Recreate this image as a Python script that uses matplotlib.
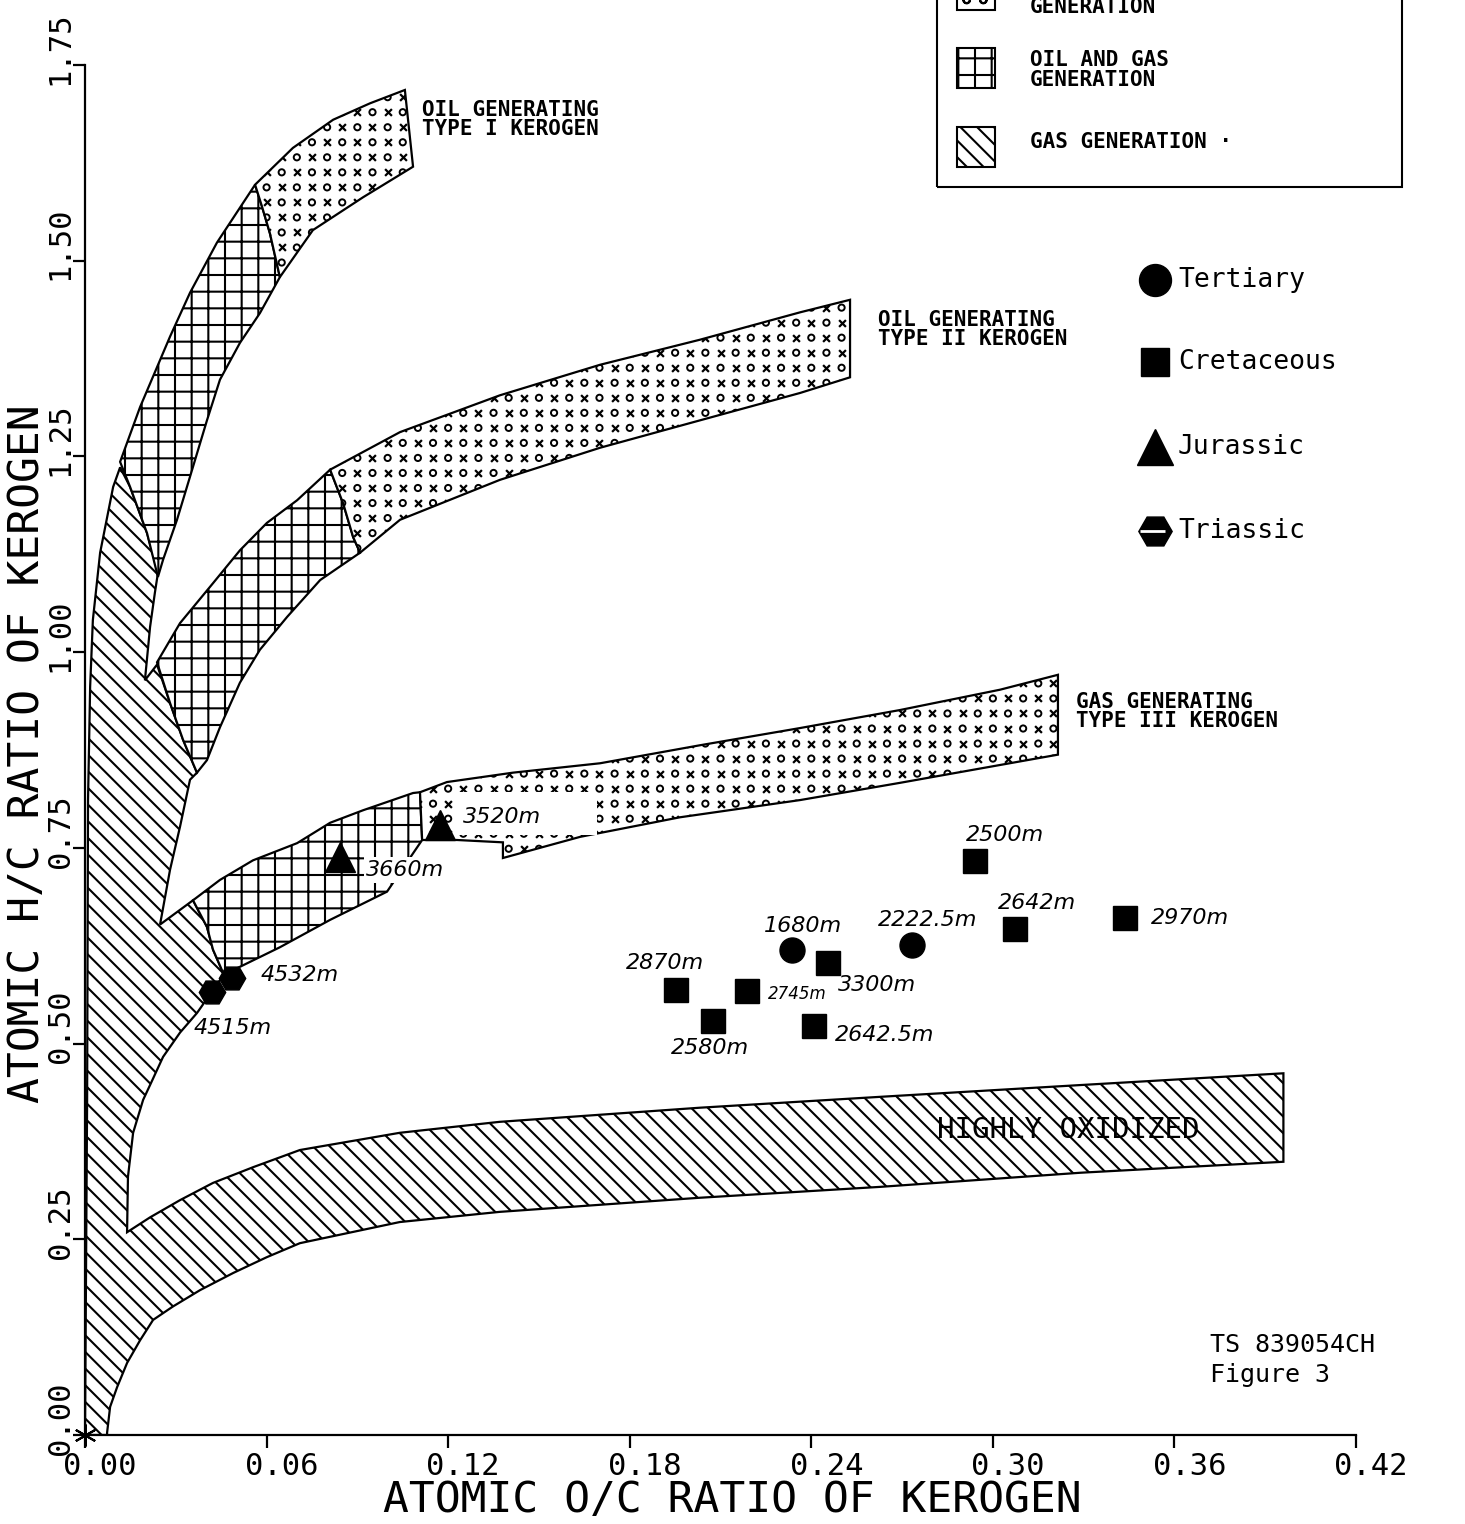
import matplotlib
matplotlib.use('Agg')
import matplotlib.pyplot as plt
import numpy as np
from matplotlib.patches import Polygon, Rectangle
from matplotlib.transforms import ScaledTranslation

plt.rcParams['font.family'] = ['DejaVu Sans Mono', 'DejaVu Sans']
plt.rcParams['hatch.linewidth'] = 1.5
plt.rcParams['hatch.color'] = 'black'

# ---- kerogen zone outlines (atomic O/C, atomic H/C) ----
# gas generation (incl. highly oxidized band)
gas_x = [0.0, 0.0007, 0.001, 0.0017, 0.0026, 0.005, 0.0093, 0.0116, 0.0149, 0.0205,
         0.0241, 0.0231, 0.0215, 0.0198, 0.0238, 0.0281, 0.0324, 0.037, 0.0347, 0.0314,
         0.0281, 0.0248, 0.0357, 0.0403, 0.0423, 0.0459, 0.037, 0.0314, 0.0258, 0.0215,
         0.0192, 0.0159, 0.0142, 0.0139, 0.0215, 0.0314, 0.0423, 0.0555, 0.071, 0.104,
         0.137, 0.203, 0.263, 0.329, 0.396, 0.396, 0.329, 0.263, 0.203, 0.170,
         0.137, 0.104, 0.071, 0.060, 0.049, 0.038, 0.029, 0.0225, 0.0182, 0.0139,
         0.0106, 0.0083, 0.0073, 0.0073]
gas_y = [0.0, 0.428, 0.811, 0.956, 1.041, 1.127, 1.211, 1.236, 1.211, 1.152,
         1.101, 1.076, 1.032, 0.964, 0.984, 0.935, 0.888, 0.846, 0.837, 0.777,
         0.722, 0.652, 0.683, 0.649, 0.620, 0.588, 0.539, 0.514, 0.483, 0.447,
         0.428, 0.386, 0.330, 0.259, 0.278, 0.300, 0.322, 0.342, 0.364, 0.386,
         0.400, 0.418, 0.432, 0.447, 0.462, 0.349, 0.335, 0.317, 0.303, 0.294,
         0.285, 0.272, 0.245, 0.227, 0.207, 0.185, 0.164, 0.147, 0.121, 0.092,
         0.061, 0.036, 0.003, 0.0]

# type I
t1_mix_x = [0.0116, 0.0182, 0.0281, 0.0347, 0.0436, 0.0562, 0.0585, 0.0611, 0.0644, 0.0578,
            0.0512, 0.0446, 0.0403, 0.0347, 0.0304, 0.0258, 0.0241, 0.0205, 0.0149]
t1_mix_y = [1.243, 1.313, 1.403, 1.459, 1.523, 1.597, 1.569, 1.535, 1.479, 1.433,
            1.395, 1.348, 1.296, 1.224, 1.169, 1.118, 1.096, 1.152, 1.211]
t1_oil_x = [0.0562, 0.0687, 0.082, 0.0942, 0.1057, 0.1084, 0.0919, 0.0753, 0.0644, 0.0611, 0.0585]
t1_oil_y = [1.597, 1.644, 1.680, 1.701, 1.718, 1.620, 1.581, 1.539, 1.479, 1.535, 1.569]

# type II
t2_mix_x = [0.0238, 0.0314, 0.0423, 0.0512, 0.0601, 0.0701, 0.081, 0.0853, 0.0886, 0.0909,
            0.0777, 0.0668, 0.0578, 0.0512, 0.0446, 0.0403, 0.037, 0.0324, 0.0281]
t2_mix_y = [0.987, 1.037, 1.088, 1.130, 1.165, 1.194, 1.233, 1.190, 1.147, 1.127,
            1.092, 1.045, 1.003, 0.961, 0.904, 0.862, 0.846, 0.888, 0.935]
t2_oil_x = [0.081, 0.1041, 0.1371, 0.1702, 0.2032, 0.2363, 0.2528, 0.2528, 0.2363, 0.2032,
            0.1702, 0.1371, 0.1041, 0.0909, 0.0886, 0.0853]
t2_oil_y = [1.233, 1.281, 1.328, 1.367, 1.399, 1.434, 1.450, 1.351, 1.331, 1.296,
            1.261, 1.220, 1.169, 1.127, 1.147, 1.190]

# type III
t3_mix_x = [0.0357, 0.0446, 0.0555, 0.0701, 0.081, 0.0919, 0.1084, 0.1107, 0.1114, 0.0998,
            0.081, 0.0644, 0.0459, 0.0423, 0.0403]
t3_mix_y = [0.683, 0.709, 0.734, 0.756, 0.782, 0.798, 0.820, 0.821, 0.760, 0.694,
            0.658, 0.623, 0.588, 0.620, 0.649]
t3_oil_x = [0.1107, 0.1196, 0.1414, 0.1702, 0.2032, 0.2363, 0.2693, 0.3024, 0.3215, 0.3215,
            0.2693, 0.2363, 0.1966, 0.1636, 0.1381, 0.1381, 0.1229, 0.1114]
t3_oil_y = [0.821, 0.834, 0.846, 0.858, 0.881, 0.903, 0.926, 0.952, 0.971, 0.869,
            0.833, 0.811, 0.789, 0.764, 0.737, 0.757, 0.760, 0.760]

# ---- samples ----
tert_x = [0.2336, 0.2733]
tert_y = [0.6195, 0.626]
tert_lab = ['1680m', '2222.5m']
cret_x = [0.1953, 0.2188, 0.2075, 0.2455, 0.2409, 0.2941, 0.3073, 0.3437]
cret_y = [0.5684, 0.5671, 0.5288, 0.6029, 0.5224, 0.7332, 0.6463, 0.6604]
cret_lab = ['2870m', '2745m', '2580m', '3300m', '2642.5m', '2500m', '2642m', '2970m']
jur_x = [0.0843, 0.1173]
jur_y = [0.7383, 0.7792]
jur_lab = ['3660m', '3520m']
tri_x = [0.0486, 0.042]
tri_y = [0.5837, 0.5658]
tri_lab = ['4532m', '4515m']

# label offsets in points from each sample
tert_off = [(8, 17), (11.5, 18)]
cret_off = [(-8, 19.5), (36, -2), (-2, -19.5), (35, -16), (51, -6.5), (21.5, 18.7), (16, 18.7), (47, 0)]
jur_off = [(47, -9.4), (45, 6)]
tri_off = [(49, 2), (14.5, -26)]

xticks = [0.00, 0.06, 0.12, 0.18, 0.24, 0.30, 0.36, 0.42]
yticks = [0.00, 0.25, 0.50, 0.75, 1.00, 1.25, 1.50, 1.75]

fig = plt.figure(figsize=(14.65, 15.24), dpi=100)
ax = fig.add_axes([0.05802, 0.0584, 0.8676, 0.8990])
ax.set_xlim(0, 0.42)
ax.set_ylim(0, 1.75)
ax.spines['top'].set_visible(False)
ax.spines['right'].set_visible(False)
for s in ['left', 'bottom']:
    ax.spines[s].set_linewidth(1.6)

# pattern grid for the oil zones
gi, gj = np.meshgrid(np.arange(85), np.arange(92))
gx = gi * 0.005
gy = gj * 0.0192
even = (gi + gj) % 2 == 0


def zone(xs, ys, kind):
    p = Polygon(np.column_stack([xs, ys]), closed=True, facecolor='white',
                edgecolor='black', lw=1.6, zorder=1)
    if kind == 'gas':
        p.set_hatch('\\\\')
    elif kind == 'mix':
        p.set_hatch('+')
    ax.add_patch(p)
    if kind == 'oil':
        sc = ax.scatter(gx[even], gy[even], marker='x', s=24, c='k', linewidths=1.6, zorder=1.2)
        sc.set_clip_path(p)
        sc = ax.scatter(gx[~even], gy[~even], marker='o', s=20, facecolors='none',
                        edgecolors='k', linewidths=1.4, zorder=1.2)
        sc.set_clip_path(p)
    return p


zone(gas_x, gas_y, 'gas')
zone(t1_mix_x, t1_mix_y, 'mix')
zone(t1_oil_x, t1_oil_y, 'oil')
zone(t2_mix_x, t2_mix_y, 'mix')
zone(t2_oil_x, t2_oil_y, 'oil')
zone(t3_mix_x, t3_mix_y, 'mix')
zone(t3_oil_x, t3_oil_y, 'oil')

# erased patch behind the 3520m note
ax.add_patch(Rectangle((0.1216, 0.766), 0.0476, 0.055, facecolor='white', edgecolor='none', zorder=2))

# zone captions
ax.text(0.1114, 1.705, 'OIL GENERATING\nTYPE I KEROGEN', fontsize=15, fontweight='bold',
        va='top', ha='left', linespacing=0.95)
ax.text(0.2621, 1.437, 'OIL GENERATING\nTYPE II KEROGEN', fontsize=15, fontweight='bold',
        va='top', ha='left', linespacing=0.95)
ax.text(0.3275, 0.949, 'GAS GENERATING\nTYPE III KEROGEN', fontsize=15, fontweight='bold',
        va='top', ha='left', linespacing=0.95)
ax.text(0.3249, 0.3896, 'HIGHLY OXIDIZED', fontsize=21, ha='center', va='center', zorder=2)

# samples
ax.plot(tert_x, tert_y, ls='none', marker='o', ms=18, color='k', zorder=3)
ax.plot(cret_x, cret_y, ls='none', marker='s', ms=17, color='k', zorder=3)
ax.plot(jur_x, jur_y, ls='none', marker='^', ms=21, color='k', zorder=3)
ax.plot(tri_x, tri_y, ls='none', marker='H', ms=19, color='k', zorder=3)

hand = dict(family='DejaVu Sans', style='italic', ha='center', va='center', zorder=4)
for xs, ys, labs, offs in [(tert_x, tert_y, tert_lab, tert_off), (cret_x, cret_y, cret_lab, cret_off),
                           (jur_x, jur_y, jur_lab, jur_off), (tri_x, tri_y, tri_lab, tri_off)]:
    for x, y, lab, off in zip(xs, ys, labs, offs):
        fs = 12 if lab == '2745m' else 16
        t = ax.annotate(lab, (x, y), xytext=off, textcoords='offset points', fontsize=fs, **hand)
        if lab == '3660m':
            t.set_bbox(dict(facecolor='white', edgecolor='none', pad=2))

# origin mark
ax.plot([0], [0], marker=(6, 2, 0), ms=16, mew=1.5, color='k', clip_on=False, zorder=5)

# ticks
ax.set_xticks(xticks)
ax.set_yticks(yticks)
ax.set_xticklabels(['%.2f' % v for v in xticks])
ax.set_yticklabels(['%.2f' % v for v in yticks])
ax.tick_params(axis='both', direction='out', length=9, width=1.6, labelsize=22)
ax.tick_params(axis='x', pad=3)
ax.tick_params(axis='y', pad=-1.5, labelrotation=90)
for lab in ax.get_xticklabels():
    lab.set_transform(lab.get_transform() + ScaledTranslation(0.15, 0, fig.dpi_scale_trans))
for lab in ax.get_yticklabels():
    lab.set_transform(lab.get_transform() + ScaledTranslation(0, 0.17, fig.dpi_scale_trans))
    lab.set_va('center')

fig.text(0.4997, 0.0157, 'ATOMIC O/C RATIO OF KEROGEN', fontsize=31, ha='center', va='center')
fig.text(0.0185, 0.5052, 'ATOMIC H/C RATIO OF KEROGEN', fontsize=31, ha='center', va='center',
         rotation=90)

# zone key (top right box)
tf = fig.transFigure
fig.add_artist(Rectangle((0.6396, 1 - 187 / 1524), (1402 - 937) / 1465, 0.2, fill=False,
                         lw=1.5, edgecolor='k', transform=tf))
fig.add_artist(Rectangle((957 / 1465, 1 - 10 / 1524), 38 / 1465, 0.03, facecolor='white',
                         edgecolor='k', hatch='o', lw=1.5, transform=tf))
fig.add_artist(Rectangle((957 / 1465, 1 - 88 / 1524), 38 / 1465, 40 / 1524, facecolor='white',
                         edgecolor='k', hatch='+', lw=1.5, transform=tf))
fig.add_artist(Rectangle((957 / 1465, 1 - 167 / 1524), 38 / 1465, 40 / 1524, facecolor='white',
                         edgecolor='k', hatch='\\\\', lw=1.5, transform=tf))
fig.text(1030 / 1465, 1 + 3 / 1524, 'OIL\nGENERATION', fontsize=15, fontweight='bold',
         ha='left', va='center', linespacing=0.95)
fig.text(1030 / 1465, 1 - 70 / 1524, 'OIL AND GAS\nGENERATION', fontsize=15, fontweight='bold',
         ha='left', va='center', linespacing=0.95)
fig.text(1030 / 1465, 1 - 142 / 1524, 'GAS GENERATION \u00b7', fontsize=15, fontweight='bold',
         ha='left', va='center')

# age key
key_names = ['Tertiary', 'Cretaceous', 'Jurassic', 'Triassic']
key_marks = ['o', 's', '^', 'H']
key_sizes = [23, 20, 26, 24]
key_rows = [280, 362, 447, 531]
for name, mk, ms, row in zip(key_names, key_marks, key_sizes, key_rows):
    fy = 1 - row / 1524
    ax.plot([1155 / 1465], [fy], marker=mk, ms=ms, color='k', transform=tf, clip_on=False)
    fig.text(1178 / 1465, fy, name, fontsize=19, ha='left', va='center')
ax.plot([1152 / 1465], [1 - 531 / 1524], marker='_', ms=18, mew=2, color='white',
        transform=tf, clip_on=False)

fig.text(1210 / 1465, 1 - 1333 / 1524, 'TS 839054CH\nFigure 3', fontsize=18, ha='left',
         va='top', linespacing=1.3)

fig.savefig('out.png', dpi=100)
